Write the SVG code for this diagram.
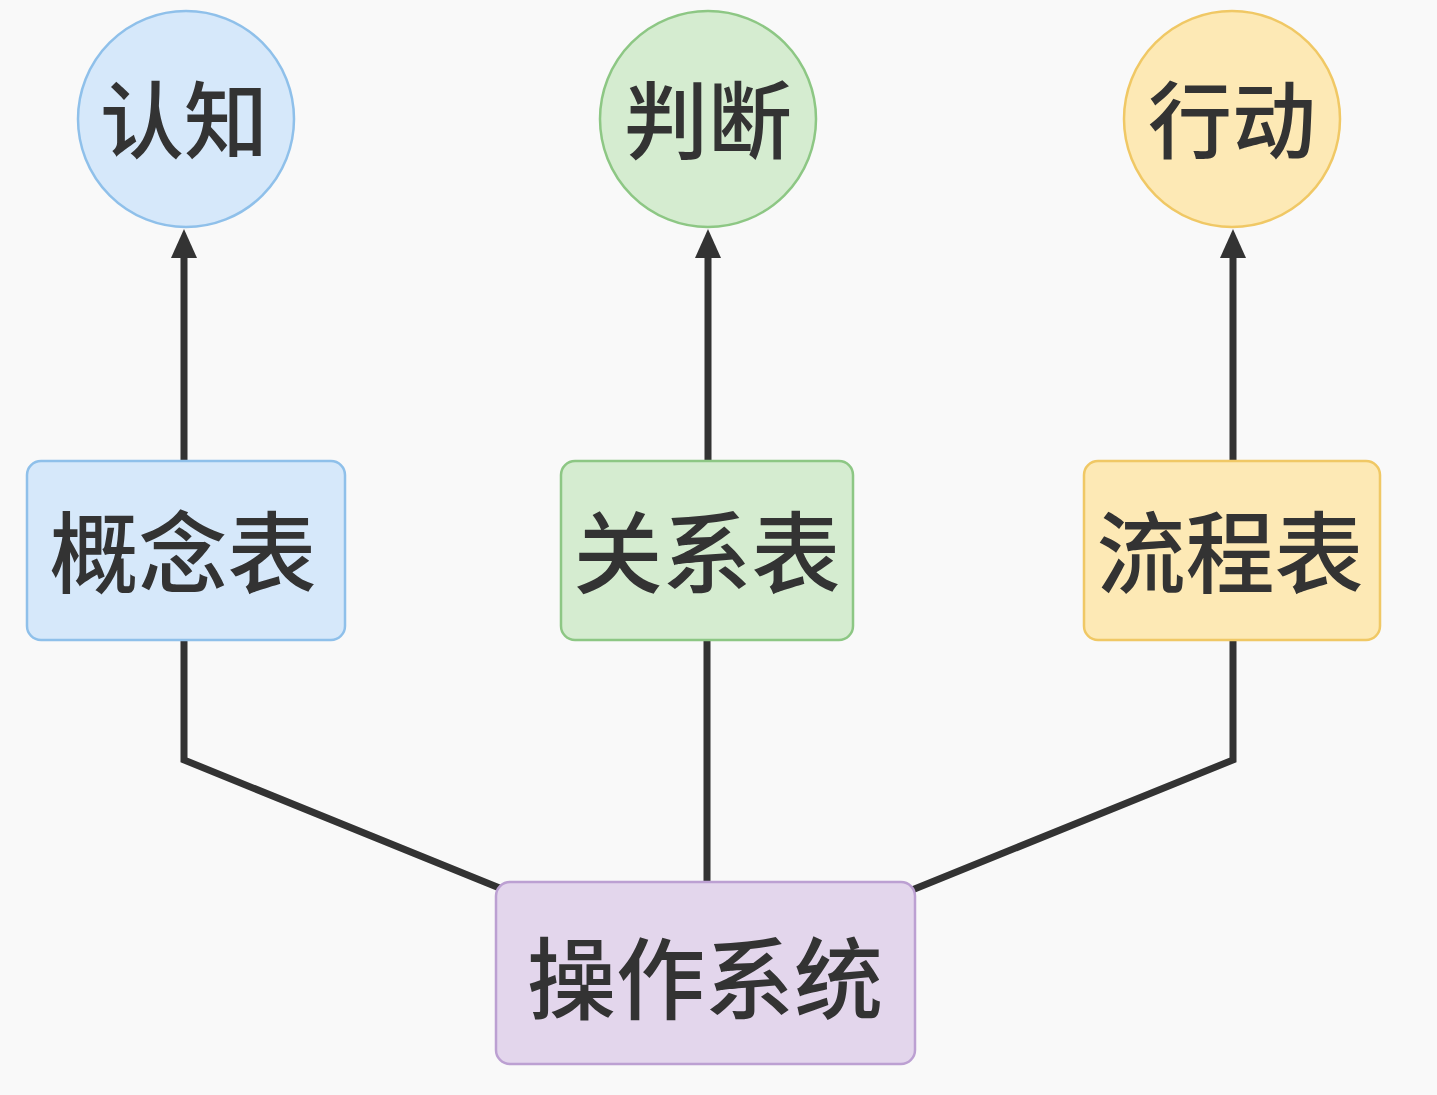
<svg xmlns="http://www.w3.org/2000/svg" width="1437" height="1095" viewBox="0 0 1437 1095">
<style>
text{font-family:"Noto Sans CJK SC","Noto Sans",sans-serif;fill:#333;text-anchor:middle;dominant-baseline:central;font-weight:500}
.c{font-size:84px}.b{font-size:89px}
.blue{fill:#d6e8fa;stroke:#8fc0ea;stroke-width:2.5}
.green{fill:#d5ecd0;stroke:#8dc784;stroke-width:2.5}
.yellow{fill:#fde9b5;stroke:#f0c865;stroke-width:2.5}
.purple{fill:#e3d6ec;stroke:#bca0d2;stroke-width:2.5}
.e{fill:none;stroke:#333;stroke-width:7;stroke-linejoin:miter}
</style>
<rect width="1437" height="1095" fill="#f9f9f9"/>
<g id="edges">
<path class="e" d="M184 461 V258"/><path d="M184 229 L197 258 L171 258Z" fill="#333"/>
<path class="e" d="M708 461 V258"/><path d="M708 229 L721 258 L695 258Z" fill="#333"/>
<path class="e" d="M1233 461 V258"/><path d="M1233 229 L1246 258 L1220 258Z" fill="#333"/>
<path class="e" d="M184 640 V760 L502 889"/>
<path class="e" d="M707 640 V882"/>
<path class="e" d="M1233 640 V760 L912 890"/>
</g>
<g id="n1"><circle class="blue" cx="186" cy="119" r="108"/><text class="c" x="184" y="115">认知</text></g>
<g id="n2"><circle class="green" cx="708" cy="119" r="108"/><text class="c" x="708" y="115">判断</text></g>
<g id="n3"><circle class="yellow" cx="1232" cy="119" r="108"/><text class="c" x="1232" y="115">行动</text></g>
<g id="n4"><rect class="blue" x="27" y="461" width="318" height="179" rx="14"/><text class="b" x="183" y="547">概念表</text></g>
<g id="n5"><rect class="green" x="561" y="461" width="292" height="179" rx="14"/><text class="b" x="707" y="547">关系表</text></g>
<g id="n6"><rect class="yellow" x="1084" y="461" width="296" height="179" rx="14"/><text class="b" x="1230" y="547">流程表</text></g>
<g id="n7"><rect class="purple" x="496" y="882" width="419" height="182" rx="14"/><text class="b" x="705" y="973">操作系统</text></g>
</svg>
